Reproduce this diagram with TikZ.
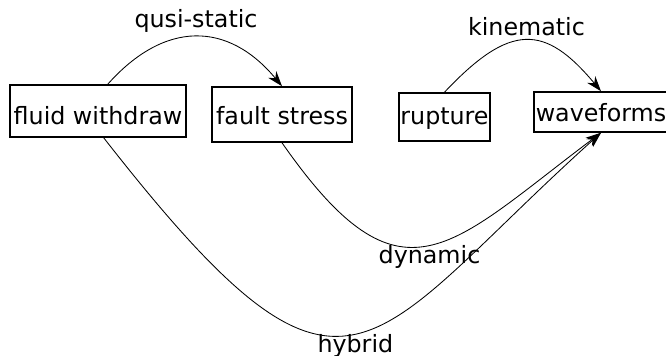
\documentclass[tikz,border=0pt]{standalone}
\usepackage{fontspec}
\setmainfont{DejaVu Sans}
\usepackage{tikz}
\usetikzlibrary{arrows.meta, positioning}

\begin{document}
\begin{tikzpicture}[
    x=0.025cm, y=-0.025cm,
    every node/.style={font=\fontsize{16.9}{20}\selectfont},
    box/.style={rectangle, draw=black, line width=1.1pt, inner sep=0pt, text depth=0pt},
    lbl/.style={inner sep=0pt},
    arrow/.style={-{Stealth[length=3.8mm, width=2.6mm, inset=1.2mm]}, line width=0.6pt},
  ]
  \useasboundingbox (0,0) rectangle (666,356);

  % Inputs
  \node[box, minimum width=4.4cm, minimum height=1.3cm, text height=0.65cm] (fluid) at (98,111) {fluid withdraw};
  \node[box, minimum width=3.5cm, minimum height=1.375cm, text height=0.475cm] (stress) at (282,114.5) {fault stress};

  % Source
  \node[box, minimum width=2.275cm, minimum height=1.2cm, text height=0.35cm] (rupture) at (444.5,117) {rupture};

  % Output
  \node[box, minimum width=3.35cm, minimum height=1.0cm, text height=0.45cm] (waves) at (601,112) {waveforms};

  % Arrows
  \draw[arrow] (fluid.70) .. controls +(57,-64) and +(-54,-65) .. node[lbl, above=3pt] {qusi-static} (stress.north);
  \draw[arrow] (rupture.north) .. controls +(66,-70) and +(-56,-67) .. node[lbl, above=3pt] {kinematic} (waves.north);
  \draw[arrow] (stress.south) .. controls +(120,172) and +(-152,114) .. node[lbl, below=0pt] {dynamic} (waves.south);
  \draw[arrow] (fluid.-78) .. controls +(246,315) and +(-238,214) .. node[lbl, below=0pt] {hybrid} (waves.south);

\end{tikzpicture}
\end{document}
